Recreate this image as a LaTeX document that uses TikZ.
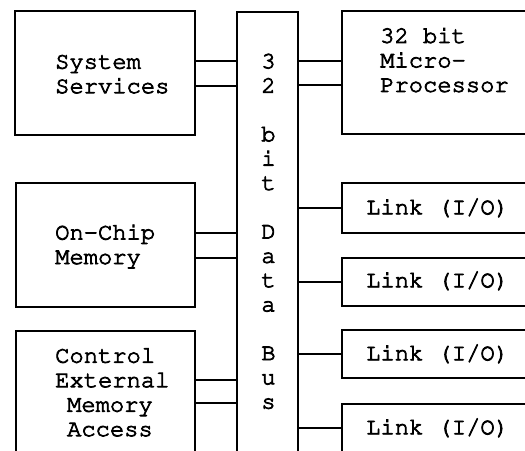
\documentclass[tikz,border=0pt]{standalone}
\usepackage[T1]{fontenc}
\usepackage{courier}
\newcommand\thickfont{\special{pdf:literal direct 2 Tr 0.8 w}}
\newcommand\thinfont{\special{pdf:literal direct 0 Tr}}
\begin{document}
\begin{tikzpicture}[x=1pt,y=-1pt,
  blk/.style={draw,line width=1.2pt,inner sep=0pt,minimum width=#1},
  lbl/.style={font=\fontfamily{pcr}\fontsize{23.8}{24.5}\selectfont,inner sep=0pt,align=left,anchor=west},
  wire/.style={line width=1.2pt}]
\useasboundingbox (0,0) rectangle (525,450);
\clip (0,0) rectangle (525,450);
% boxes
\node[blk=180,minimum height=124] (sys) at (105,73) {};
\node[blk=179,minimum height=124] (mem) at (105.5,245) {};
\node[blk=179,minimum height=139] (ctrl) at (105.5,400.5) {};
\node[blk=61,minimum height=458] (bus) at (267.5,241) {};
\node[blk=198,minimum height=123] (cpu) at (441,72.5) {};
\node[blk=198,minimum height=50] (l1) at (441,208) {};
\node[blk=198,minimum height=48] (l2) at (441,282) {};
\node[blk=198,minimum height=48] (l3) at (441,354) {};
\node[blk=198,minimum height=66] (l4) at (441,437) {};
% texts
\thickfont
\node[lbl] (tsys) at (55,74) {System\\Services};
\node[lbl] (tmem) at (55,246) {On-Chip\\Memory};
\node[lbl] (tctrl) at (55,392) {Control\\External\\\hspace*{0.5em}Memory\\\hspace*{0.5em}Access};
\node[lbl] (tcpu) at (380,60) {32 bit\\Micro-\\Processor};
\node[lbl] (tl1) at (366,208) {Link (I/O)};
\node[lbl] (tl2) at (366,281) {Link (I/O)};
\node[lbl] (tl3) at (366,354) {Link (I/O)};
\node[lbl] (tl4) at (366,428) {Link (I/O)};
\node[lbl,align=center,anchor=north,font=\fontfamily{pcr}\fontsize{23.8}{24.3}\selectfont] (tbus) at (268.5,53)
  {3\\2\\[24.3pt]b\\i\\t\\[24.3pt]D\\a\\t\\a\\[24.3pt]B\\u\\s};
\thinfont
% connectors
\foreach \y in {61,86} \draw[wire] (sys.east |- 0,\y) -- (bus.west |- 0,\y);
\foreach \y in {61,85} \draw[wire] (bus.east |- 0,\y) -- (cpu.west |- 0,\y);
\foreach \y in {233,258} \draw[wire] (mem.east |- 0,\y) -- (bus.west |- 0,\y);
\foreach \y in {380,403} \draw[wire] (ctrl.east |- 0,\y) -- (bus.west |- 0,\y);
\draw[wire] (bus.east |- l1.west) -- (l1.west);
\draw[wire] (bus.east |- l2.west) -- (l2.west);
\draw[wire] (bus.east |- l3.west) -- (l3.west);
\draw[wire] (bus.east |- 0,428) -- (l4.west |- 0,428);
\end{tikzpicture}
\end{document}
